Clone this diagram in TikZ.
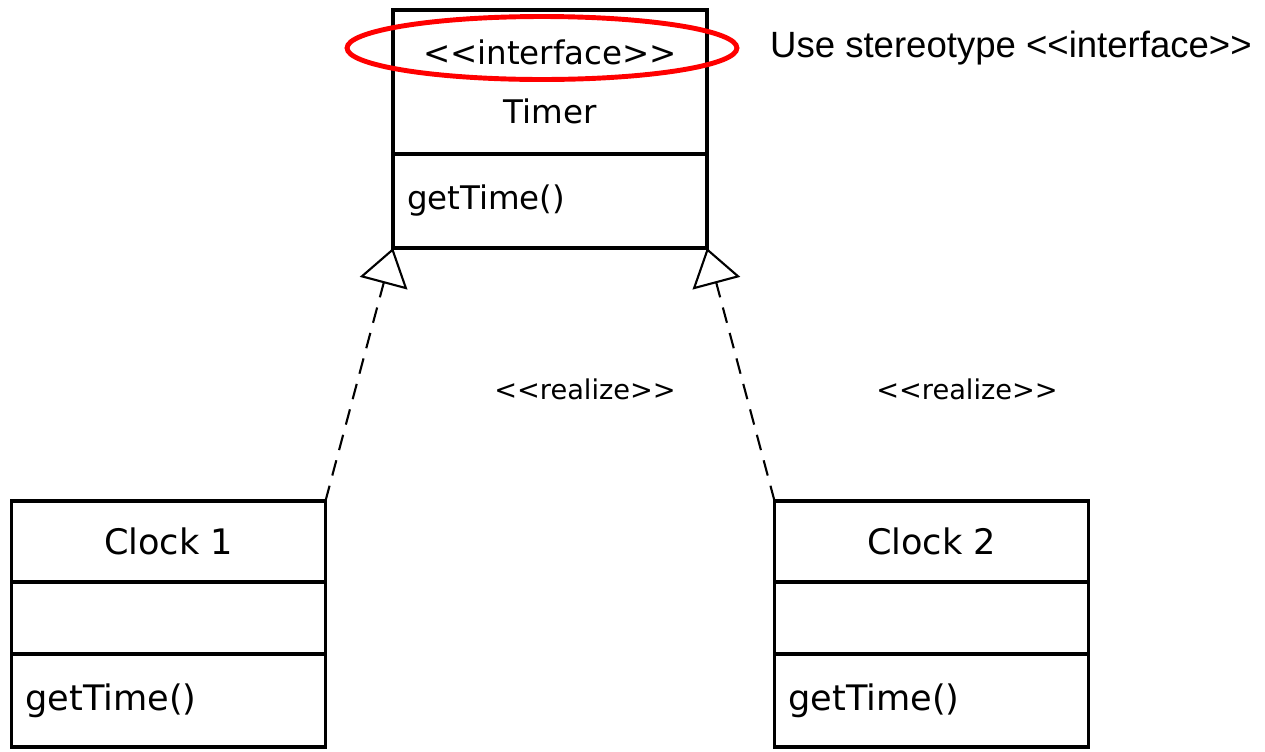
\documentclass[tikz,border=0pt]{standalone}
\usepackage{fontspec}
\setmainfont{DejaVu Sans}
\newfontfamily\notefont{Liberation Sans}
\usetikzlibrary{positioning,arrows.meta}
\tikzset{
    node distance=0pt, % compartments of a class sit right on one another
    }
\newcommand{\lstereo}{<\kern0pt<}
\newcommand{\rstereo}{>\kern0pt>}

\begin{document}
\begin{tikzpicture}[x=0.02cm, y=-0.02cm,
classbox/.style={draw, line width=1.9pt, outer sep=0pt, minimum width=6.28cm, align=center},
methodbox/.style={classbox, text width=5.72cm, inner xsep=0.28cm, align=left},
realizeline/.style={line width=1.2pt, dash pattern=on 9pt off 6pt, -{Triangle[open, length=0.73cm, width=0.98cm, line width=1.2pt]}},
stereolabel/.style={font=\fontsize{15.5}{18}\selectfont},
]
\useasboundingbox (0,0) rectangle (1265,751);

\node[classbox, minimum height=2.88cm, font=\fontsize{18.5}{34}\selectfont] (timername) at (550,82) {\lstereo interface\rstereo\\Timer};
\node[methodbox, minimum height=1.88cm, font=\fontsize{18.5}{22}\selectfont] (timerops) [below=of timername] {getTime()};

\node[classbox, minimum height=1.62cm, font=\fontsize{20}{24}\selectfont] (clockA) at (168.5,541.5) {Clock 1};
\node[classbox, minimum height=1.44cm] (clockAattr) [below=of clockA] {};
\node[methodbox, minimum height=1.86cm, font=\fontsize{20}{24}\selectfont] (clockAops) [below=of clockAattr] {getTime()};

\node[classbox, minimum height=1.62cm, font=\fontsize{20}{24}\selectfont] (clockB) at (931.5,541.5) {Clock 2};
\node[classbox, minimum height=1.44cm] (clockBattr) [below=of clockB] {};
\node[methodbox, minimum height=1.86cm, font=\fontsize{20}{24}\selectfont] (clockBops) [below=of clockBattr] {getTime()};

\draw[realizeline] (clockA.north east) -- (timerops.south west);
\draw[realizeline] (clockB.north west) -- (timerops.south east);
\node[stereolabel] (realizeA) at (585,389) {\lstereo realize\rstereo};
\node[stereolabel] (realizeB) at (967,389) {\lstereo realize\rstereo};

% the note
\draw[red, line width=2.8pt] (542,48) ellipse [x radius=3.9cm, y radius=0.63cm];
\node[anchor=west, font=\notefont\fontsize{20.8}{25}\selectfont] (note) at (764,48) {Use stereotype \lstereo interface\rstereo};
\end{tikzpicture}
\end{document}
